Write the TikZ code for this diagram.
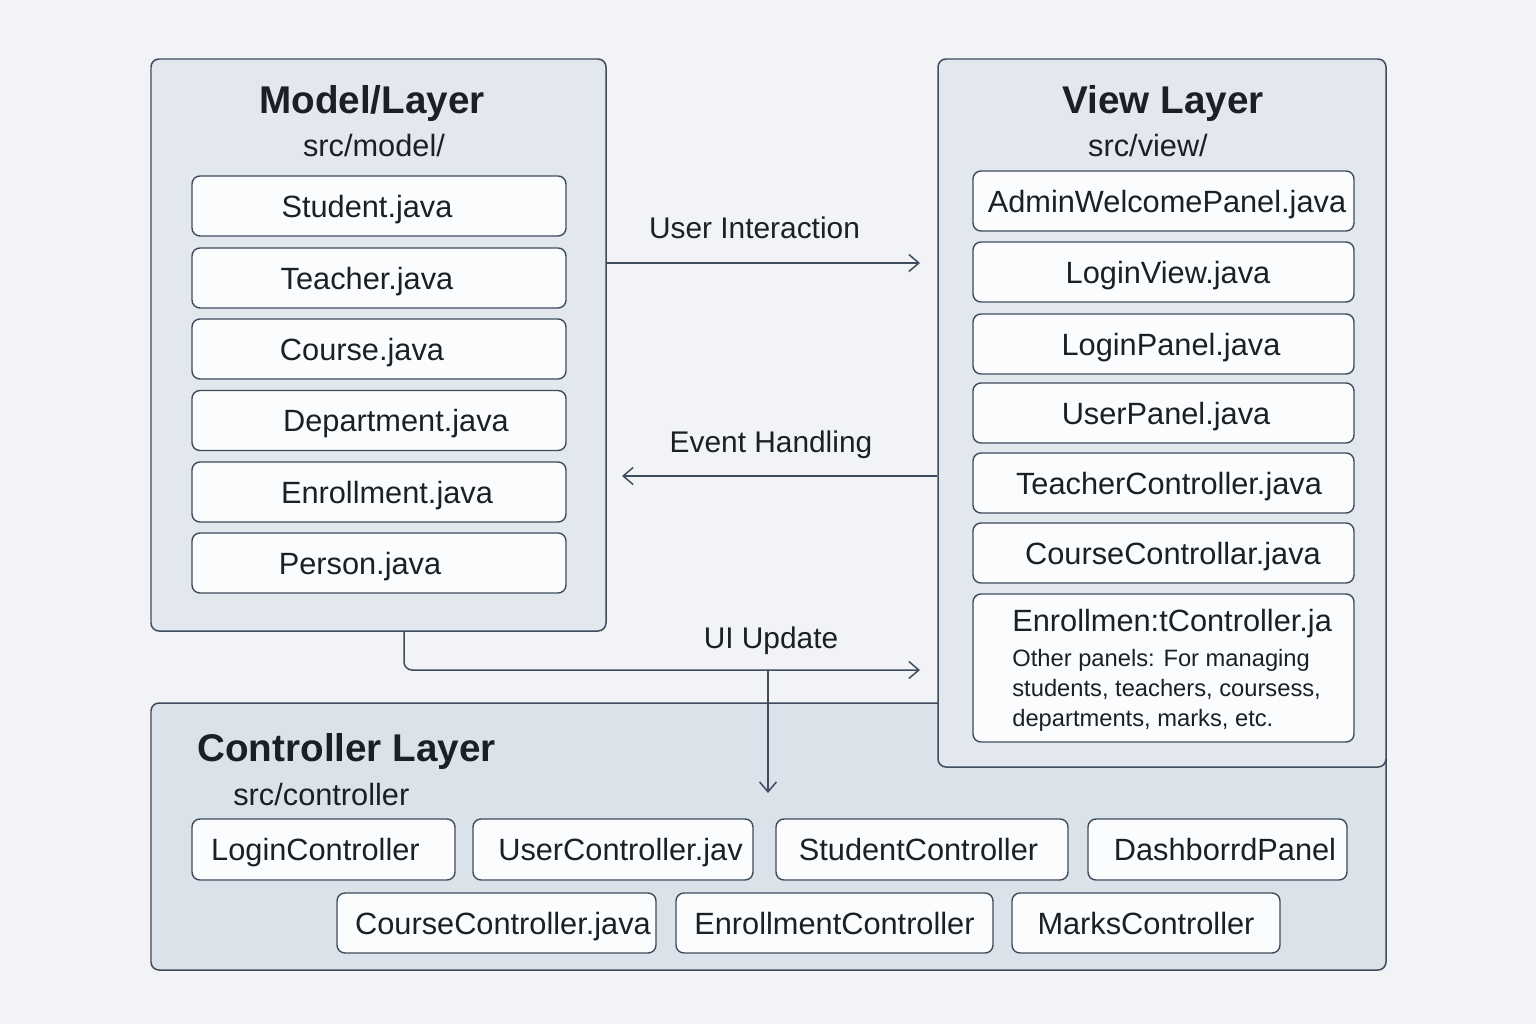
\documentclass[tikz,border=0pt]{standalone}
\usepackage{fontspec}
\setmainfont{Liberation Sans}
\usetikzlibrary{arrows.meta}
\definecolor{bg}{HTML}{F1F3F6}
\definecolor{layerfill}{HTML}{E3E8EE}
\definecolor{ctrlfill}{HTML}{DCE2E9}
\definecolor{edge}{HTML}{3E4C5E}
\definecolor{ink}{HTML}{1B2027}
\definecolor{itemfill}{HTML}{FBFCFD}
\begin{document}
\begin{tikzpicture}[x=0.02cm,y=-0.02cm,
  sz/.style 2 args={minimum width={#1*0.02cm}, minimum height={#2*0.02cm}},
  off/.style={execute at begin node={\hspace*{#1}}},
  layer/.style={draw=edge, line width=0.85pt, fill=layerfill, rounded corners=0.16cm, inner sep=0pt},
  item/.style={draw=edge, line width=0.8pt, fill=itemfill, rounded corners=0.16cm, text=ink, font=\fontsize{17.5}{21}\selectfont, inner sep=0pt, text height=12.6pt, text depth=0pt},
  title/.style={text=ink, font=\fontsize{22}{26}\selectfont\bfseries, inner sep=0pt},
  sub/.style={text=ink, font=\fontsize{17.5}{21}\selectfont, inner sep=0pt},
  lbl/.style={text=ink, font=\fontsize{17}{20}\selectfont, inner sep=0pt},
  small/.style={text=ink, font=\fontsize{13.5}{17}\selectfont, inner sep=0pt, align=left},
  conn/.style={draw=edge, line width=0.85pt, -{Straight Barb[length=0.2cm,width=0.34cm]}}
]
\fill[bg] (0,0) rectangle (1536,1024);
\useasboundingbox (0,0) rectangle (1536,1024);

% Controller layer (drawn first, view layer overlaps it)
\node[layer, fill=ctrlfill, sz={1235}{267}] (ctrl) at (768.5,836.5) {};
% Model layer
\node[layer, sz={455}{572}] (model) at (378.5,345) {};
% View layer
\node[layer, sz={448}{708}] (view) at (1162,413) {};

% Model titles
\node[title, anchor=base] (mt) at (372,114) {Model/Layer};
\node[sub, anchor=base] (ms) at (374,156) {src/model/};
% Model items
\node[item, sz={374}{60}, off=-0.48cm] (m1) at (379,206) {Student.java};
\node[item, sz={374}{60}, off=-0.48cm] (m2) at (379,278) {Teacher.java};
\node[item, sz={374}{60}, off=-0.68cm] (m3) at (379,349) {Course.java};
\node[item, sz={374}{60}, off=0.68cm] (m4) at (379,420.5) {Department.java};
\node[item, sz={374}{60}, off=0.32cm] (m5) at (379,492) {Enrollment.java};
\node[item, sz={374}{60}, off=-0.76cm] (m6) at (379,563) {Person.java};

% View titles
\node[title, anchor=base] (vt) at (1163,114) {View Layer};
\node[sub, anchor=base] (vs) at (1148,156) {src/view/};
% View items
\node[item, sz={381}{60}, off=0.14cm] (v1) at (1163.5,201) {AdminWelcomePanel.java};
\node[item, sz={381}{60}, off=0.18cm] (v2) at (1163.5,272) {LoginView.java};
\node[item, sz={381}{60}, off=0.30cm] (v3) at (1163.5,344) {LoginPanel.java};
\node[item, sz={381}{60}, off=0.10cm] (v4) at (1163.5,413) {UserPanel.java};
\node[item, sz={381}{60}, off=0.22cm] (v5) at (1163.5,483) {TeacherController.java};
\node[item, sz={381}{60}, off=0.38cm] (v6) at (1163.5,553) {CourseControllar.java};
\node[item, sz={381}{148}] (v7) at (1163.5,668) {};
\node[sub, anchor=base west] (v7a) at (1012,631) {Enrollmen:tController.ja};
\node[small, anchor=north west] (v7b) at (1012,649) {Other panels: For managing\\students, teachers, coursess,\\departments, marks, etc.};

% Controller titles
\node[title, anchor=base west] (ct) at (197,761) {Controller Layer};
\node[sub, anchor=base west] (cs) at (233,805) {src/controller};
% Controller items
\node[item, sz={263}{61}, off=-0.32cm] (c1) at (323.5,849.5) {LoginController};
\node[item, sz={280}{61}, off=0.3cm] (c2) at (613,849.5) {UserController.jav};
\node[item, sz={292}{61}, off=-0.14cm] (c3) at (922,849.5) {StudentController};
\node[item, sz={259}{61}, off=0.3cm] (c4) at (1217.5,849.5) {DashborrdPanel};
\node[item, sz={319}{60}, off=0.26cm] (c5) at (496.5,923) {CourseController.java};
\node[item, sz={317}{60}] (c6) at (834.5,923) {EnrollmentController};
\node[item, sz={268}{60}] (c7) at (1146,923) {MarksController};

% Connectors
\coordinate (uiEnd) at (920,263);
\draw[conn] (model.east |- uiEnd) -- (uiEnd);
\node[lbl, anchor=base] (uil) at (754.5,238) {User Interaction};

\coordinate (ehEnd) at (622,476);
\draw[conn] (view.west |- ehEnd) -- (ehEnd);
\node[lbl, anchor=base] (ehl) at (771,452) {Event Handling};

\coordinate (upStart) at (404,631);
\coordinate (upEnd) at (920,670);
\draw[conn, rounded corners=0.16cm] (upStart) |- (upEnd);
\node[lbl, anchor=base] (upl) at (771,648) {UI Update};

\coordinate (dnTop) at (768,670);
\coordinate (dnEnd) at (768,793);
\draw[conn] (dnTop) -- (dnEnd);
\end{tikzpicture}
\end{document}
